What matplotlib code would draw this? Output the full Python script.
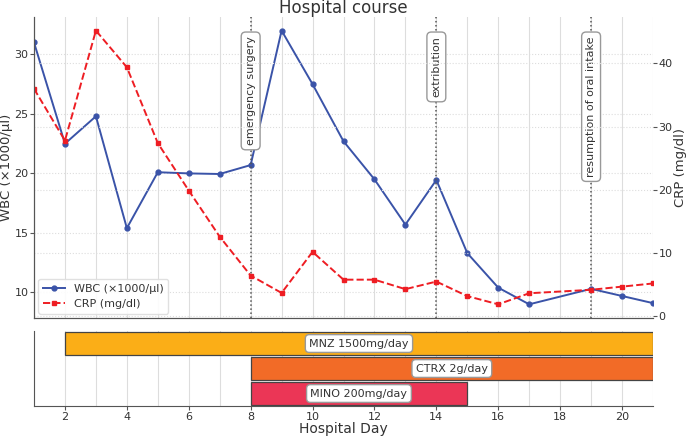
import matplotlib
matplotlib.use("Agg")
import matplotlib.pyplot as plt
import matplotlib.transforms as mtransforms

# data
days = [1, 2, 3, 4, 5, 6, 7, 8, 9, 10, 11, 12, 13, 14, 15, 16, 17, 19, 20, 21]
wbc = [31.0, 22.5, 24.8, 15.4, 20.1, 20.0, 19.95, 20.7, 32.0, 27.5, 22.7,
       19.5, 15.7, 19.45, 13.3, 10.4, 9.0, 10.3, 9.7, 9.1]
crp = [36.0, 27.8, 45.2, 39.4, 27.4, 19.9, 12.6, 6.45, 3.7, 10.2, 5.8,
       5.8, 4.3, 5.5, 3.2, 1.9, 3.65, 4.2, 4.7, 5.2]

events = [8, 14, 19]
event_labels = ["emergency surgery", "extribution", "resumption of oral intake"]

drugs = ["MNZ 1500mg/day", "CTRX 2g/day", "MINO 200mg/day"]
drug_start = [2, 8, 8]
drug_end = [21, 21, 15]
drug_colors = ["#FBAE17", "#F26B27", "#EB3656"]

text_c = "#333333"
grid_c = "#dddddd"

fig = plt.figure(figsize=(6.87, 4.37), dpi=100)
ax = fig.add_axes([0.0495, 0.2723, 0.901, 0.689])
ax2 = ax.twinx()
axb = fig.add_axes([0.0495, 0.0709, 0.901, 0.1716], sharex=ax)

l1, = ax.plot(days, wbc, color="#3A53A8", marker="o", markersize=3.5,
              linewidth=1.4, label="WBC (\u00d71000/\u03bcl)")
l2, = ax2.plot(days, crp, color="#EE1D23", marker="s", markersize=3.5,
               linewidth=1.4, linestyle="--", label="CRP (mg/dl)")

ax.set_xlim(1, 21)
ax.set_xticks(range(2, 22, 2))
ax.set_xticks(range(1, 22), minor=True)
ax.tick_params(axis="x", which="both", length=0, labelbottom=False)
ax.set_yticks([10, 15, 20, 25, 30])
ax2.set_yticks([0, 10, 20, 30, 40])

ax.grid(True, which="both", axis="x", color=grid_c, linewidth=0.8)
ax.grid(True, axis="y", color=grid_c, linewidth=0.8, linestyle=":")
ax2.grid(True, axis="y", color=grid_c, linewidth=0.8, linestyle=":")

ax.set_ylabel("WBC (\u00d71000/\u03bcl)", fontsize=9.5, color=text_c, labelpad=1)
ax2.set_ylabel("CRP (mg/dl)", fontsize=9.5, color=text_c, labelpad=1)
ax.set_title("Hospital course", fontsize=12, color=text_c, pad=3)

for a in (ax, ax2):
    a.spines["top"].set_visible(False)
    a.tick_params(axis="y", labelsize=8, colors=text_c, length=3, pad=1,
                  color="#555555")
    for s in a.spines.values():
        s.set_color("#555555")
ax.spines["right"].set_visible(False)
ax2.spines["right"].set_visible(False)

trans = mtransforms.blended_transform_factory(ax.transData, ax.transAxes)
for d, lab in zip(events, event_labels):
    ax.axvline(d, color="#555555", linestyle=":", linewidth=1.1)
    ax.text(d, 0.935, lab, transform=trans, rotation=90, ha="center", va="top",
            fontsize=8, color=text_c,
            bbox=dict(boxstyle="round,pad=0.4", facecolor="white", edgecolor="#999999"))

ax.legend([l1, l2], [l1.get_label(), l2.get_label()], loc="lower left",
          fontsize=8, frameon=True, framealpha=0.9, edgecolor="#dddddd",
          labelcolor=text_c, borderaxespad=0.4)

# treatment bars
ypos = [2, 1, 0]
for y, name, s, e, c in zip(ypos, drugs, drug_start, drug_end, drug_colors):
    axb.barh(y, e - s, left=s, height=0.92, color=c, edgecolor="#444444", linewidth=0.9)
    axb.text((s + e) / 2, y, name, ha="center", va="center", fontsize=8, color=text_c,
             bbox=dict(boxstyle="round,pad=0.35", facecolor="white", edgecolor="#999999"))
axb.set_ylim(-0.5, 2.5)
axb.set_yticks([])
axb.grid(True, which="both", axis="x", color=grid_c, linewidth=0.8)
axb.set_axisbelow(True)
axb.tick_params(axis="x", which="minor", length=0)
axb.tick_params(axis="x", which="major", labelsize=8, colors=text_c, labelbottom=True,
                length=3, pad=1.5, color="#555555")
axb.spines["top"].set_visible(False)
axb.spines["right"].set_visible(False)
for s in axb.spines.values():
    s.set_color("#555555")
axb.set_xlabel("Hospital Day", fontsize=10, color=text_c, labelpad=0)

fig.savefig("out.png", dpi=100)
